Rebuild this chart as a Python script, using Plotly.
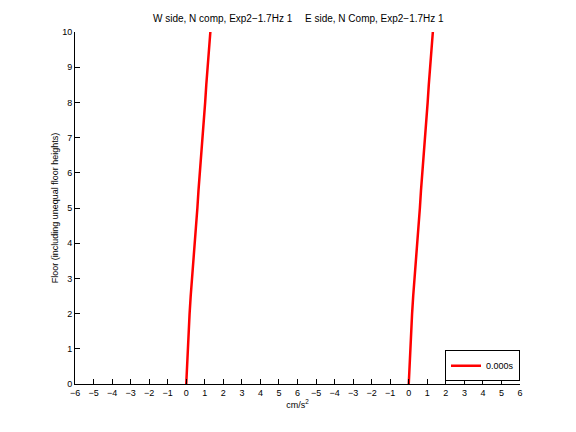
import plotly.graph_objects as go

floors = [0, 0.5, 1, 1.5, 2, 2.5, 3, 3.5, 4, 4.5, 5, 5.5, 6, 6.5, 7, 7.5, 8, 8.5, 9, 9.5, 10]
w_side = [0.0, 0.04, 0.07, 0.12, 0.18, 0.24, 0.32, 0.38, 0.45, 0.52, 0.6, 0.66, 0.74, 0.8, 0.88, 0.94, 1.02, 1.08, 1.15, 1.22, 1.3]
e_side = [0.0, 0.04, 0.07, 0.12, 0.18, 0.24, 0.32, 0.38, 0.45, 0.52, 0.6, 0.66, 0.74, 0.8, 0.88, 0.94, 1.02, 1.08, 1.15, 1.22, 1.3]
offset = 12
tick_vals = list(range(-6, 19))
tick_text = [str(v) if v <= 6 else str(v - 12) for v in tick_vals]
tick_text = [t.replace("-", "\u2212") for t in tick_text]
y_ticks = list(range(0, 11))

font = dict(family="Liberation Sans, Arial, sans-serif", size=9, color="black")
title_font = dict(family="Liberation Sans, Arial, sans-serif", size=10, color="black")

fig = go.Figure()
fig.add_trace(go.Scatter(x=w_side, y=floors, mode="lines", line=dict(color="red", width=2.5),
                         name="0.000s", showlegend=True))
fig.add_trace(go.Scatter(x=[v + offset for v in e_side], y=floors, mode="lines",
                         line=dict(color="red", width=2.5), showlegend=False))

fig.update_layout(
    width=576, height=432,
    margin=dict(l=75, r=56, t=32, b=48, autoexpand=False),
    paper_bgcolor="white", plot_bgcolor="white",
    font=font,
    showlegend=True,
    legend=dict(x=1, y=0.008, xanchor="right", yanchor="bottom", bgcolor="white",
                bordercolor="black", borderwidth=1, font=font,
                itemwidth=30, tracegroupgap=0),
    xaxis=dict(range=[-6, 18], tickmode="array", tickvals=tick_vals, ticktext=tick_text,
               ticks="inside", ticklen=5, tickcolor="black", showline=True, linecolor="black",
               linewidth=1, showgrid=False, zeroline=False, tickfont=font, automargin=False,
               title=dict(text="cm/s<sup>2</sup>", font=font, standoff=4)),
    yaxis=dict(range=[0, 10], tickmode="array", tickvals=y_ticks,
               ticks="inside", ticklen=5, tickcolor="black", showline=True, linecolor="black",
               linewidth=1, showgrid=False, zeroline=False, tickfont=font, automargin=False,
               title=dict(text="Floor (including unequal floor heights)", font=font, standoff=2)),
)

fig.add_annotation(text="W side, N comp, Exp2\u22121.7Hz 1", xref="paper", yref="paper",
                   x=(222.5 - 75) / 445, y=1, yshift=14, showarrow=False, font=title_font,
                   xanchor="center", yanchor="middle")
fig.add_annotation(text="E side, N Comp, Exp2\u22121.7Hz 1", xref="paper", yref="paper",
                   x=(374.5 - 75) / 445, y=1, yshift=14, showarrow=False, font=title_font,
                   xanchor="center", yanchor="middle")

fig.write_html("out.html", config={"displayModeBar": False},
               post_script="document.body.style.margin='0';")
